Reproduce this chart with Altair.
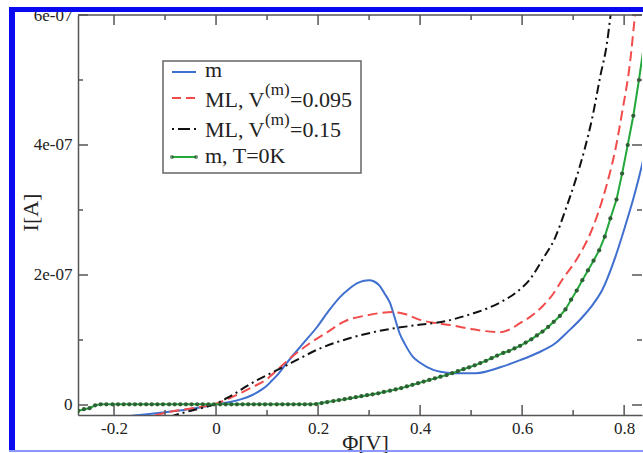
import altair as alt
import pandas as pd

# ---------------- data (y values in units of 1e-8 A) ----------------
green_x = [-0.270, -0.259, -0.248, -0.237, -0.226, -0.215, -0.203, -0.192, -0.181, -0.170,
           -0.159, -0.148, -0.137, -0.126, -0.115, -0.104, -0.092, -0.081, -0.070, -0.059,
           -0.048, -0.037, -0.026, -0.015, -0.004, 0.008, 0.019, 0.030, 0.041, 0.052,
           0.063, 0.074, 0.085, 0.096, 0.107, 0.119, 0.130, 0.141, 0.152, 0.163,
           0.174, 0.185, 0.196, 0.207, 0.218, 0.230, 0.241, 0.252, 0.263, 0.274,
           0.285, 0.296, 0.307, 0.318, 0.329, 0.341, 0.352, 0.363, 0.374, 0.385,
           0.396, 0.407, 0.418, 0.429, 0.440, 0.452, 0.463, 0.474, 0.485, 0.496,
           0.507, 0.518, 0.529, 0.540, 0.551, 0.563, 0.574, 0.585, 0.596, 0.607,
           0.618, 0.629, 0.640, 0.651, 0.662, 0.674, 0.685, 0.696, 0.707, 0.718,
           0.729, 0.740, 0.751, 0.762, 0.773, 0.785, 0.796, 0.807, 0.818, 0.829, 0.840]
green_y = [-0.9, -0.65, -0.5, -0.05, 0.1, 0.1, 0.1, 0.1, 0.1, 0.1,
           0.1, 0.1, 0.1, 0.1, 0.1, 0.1, 0.1, 0.1, 0.1, 0.1,
           0.1, 0.1, 0.1, 0.1, 0.1, 0.1, 0.1, 0.1, 0.1, 0.1,
           0.1, 0.1, 0.1, 0.1, 0.1, 0.1, 0.1, 0.1, 0.1, 0.1,
           0.1, 0.1, 0.15, 0.3, 0.45, 0.6, 0.75, 0.9, 1.05, 1.2,
           1.35, 1.5, 1.65, 1.8, 2.0, 2.2, 2.4, 2.6, 2.85, 3.1,
           3.35, 3.6, 3.85, 4.1, 4.35, 4.6, 4.9, 5.2, 5.5, 5.8,
           6.1, 6.45, 6.8, 7.2, 7.6, 8.0, 8.3, 8.7, 9.1, 9.6,
           10.1, 10.7, 11.3, 12.0, 12.8, 13.7, 14.7, 16.2, 17.6, 19.2,
           20.7, 22.2, 23.8, 25.9, 28.7, 31.6, 35.6, 40.0, 44.5, 50.0, 56.0]

blue_x = [-0.21, -0.19, -0.15, -0.10, -0.05, 0.0, 0.03, 0.05, 0.07, 0.09,
          0.10, 0.11, 0.12, 0.139, 0.17, 0.198, 0.22, 0.243, 0.26, 0.276,
          0.29, 0.30, 0.31, 0.32, 0.33, 0.341, 0.35, 0.36, 0.37, 0.386,
          0.40, 0.426, 0.44, 0.465, 0.51, 0.557, 0.596, 0.63, 0.665, 0.69,
          0.718, 0.74, 0.757, 0.782, 0.80, 0.82, 0.83, 0.84, 0.86]
blue_y = [-2.3, -1.9, -1.55, -1.1, -0.6, 0.1, 0.5, 0.9, 1.5, 2.4,
          3.0, 3.8, 4.6, 6.5, 9.4, 12.0, 14.4, 16.6, 17.8, 18.7,
          19.1, 19.2, 19.0, 18.4, 17.2, 15.7, 13.5, 11.0, 9.4, 7.4,
          6.5, 5.4, 5.1, 4.9, 4.9, 5.8, 6.9, 8.0, 9.5, 11.3,
          13.5, 15.6, 17.7, 22.6, 27.0, 32.3, 35.3, 38.6, 46.0]

red_x = [-0.12, -0.10, -0.05, 0.0, 0.025, 0.05, 0.07, 0.10, 0.12, 0.15,
         0.184, 0.22, 0.25, 0.296, 0.347, 0.37, 0.40, 0.43, 0.459, 0.50,
         0.524, 0.557, 0.575, 0.596, 0.62, 0.64, 0.66, 0.678, 0.71, 0.737,
         0.757, 0.773, 0.782, 0.796, 0.812, 0.82, 0.83]
red_y = [-1.6, -1.2, -0.55, 0.2, 1.0, 1.9, 2.7, 4.0, 5.4, 7.5,
         9.5, 11.3, 12.8, 13.8, 14.3, 14.0, 13.1, 12.6, 12.3, 11.7,
         11.4, 11.2, 11.6, 12.6, 13.8, 15.2, 17.0, 19.2, 22.8, 27.0,
         31.5, 36.0, 39.0, 45.0, 53.0, 59.0, 66.0]

black_x = [-0.09, -0.06, -0.02, 0.0, 0.02, 0.04, 0.06, 0.08, 0.10, 0.131,
           0.165, 0.198, 0.263, 0.327, 0.394, 0.45, 0.50, 0.53, 0.56, 0.59,
           0.615, 0.64, 0.665, 0.684, 0.704, 0.722, 0.737, 0.753, 0.767, 0.773, 0.785]
black_y = [-1.8, -1.1, -0.3, 0.2, 1.0, 1.9, 2.9, 3.8, 4.6, 5.8,
           7.2, 8.5, 10.3, 11.5, 12.3, 12.9, 14.0, 14.8, 15.9, 17.4,
           19.3, 22.4, 25.8, 29.8, 34.4, 39.2, 44.0, 50.5, 56.0, 59.7, 66.0]

x_major = [-0.2, 0.0, 0.2, 0.4, 0.6, 0.8]
x_minor = [-0.1, 0.1, 0.3, 0.5, 0.7]
y_major = [0.0, 2e-7, 4e-7, 6e-7]
y_minor = [1e-7, 3e-7, 5e-7]

legend_labels = ["m", "ML, V", "(m)", "=0.095", "ML, V", "(m)", "=0.15", "m, T=0K"]

# ---------------- layout ----------------
W, H = 564, 400
SERIF = "Liberation Serif, Times New Roman, Times, serif"
AX = "#555555"
XDOM = [-0.2706, 0.835]
YDOM = [-1.54e-8, 6.0e-7]

def frame(xs, ys, name):
    return pd.DataFrame({"x": xs, "y": [v * 1e-8 for v in ys], "s": name})

green = frame(green_x, green_y, "green")
blue = frame(blue_x, blue_y, "blue")
red = frame(red_x, red_y, "red")
black = frame(black_x, black_y, "black")

xaxis = alt.Axis(values=x_major, tickSize=0, labelPadding=5, domainColor=AX, domainWidth=1.5,
                 labelFont=SERIF, labelFontSize=17, labelColor="#222", grid=False,
                 labelExpr="datum.value == 0 ? '0' : replace(format(datum.value, '.1f'), '\u2212', '-')",
                 title="\u03a6[V]", titleFont=SERIF, titleFontSize=22, titleFontWeight="normal",
                 titleColor="#222", titleX=287, titleY=34, titleBaseline="alphabetic")
yaxis = alt.Axis(values=y_major, tickSize=0, labelPadding=6, domainColor=AX, domainWidth=1.5,
                 labelFont=SERIF, labelFontSize=17, labelColor="#222", grid=False,
                 labelExpr="datum.value == 0 ? '0' : replace(replace(format(datum.value, '.0e'), '\u2212', '-'), 'e-', 'e-0')",
                 title="I[A]", titleFont=SERIF, titleFontSize=22, titleFontWeight="normal",
                 titleColor="#222", titleX=-48, titleY=197, titleAngle=-90,
                 titleAlign="center", titleBaseline="middle")

X = alt.X("x:Q", scale=alt.Scale(domain=XDOM, nice=False, zero=False), axis=xaxis)
Y = alt.Y("y:Q", scale=alt.Scale(domain=YDOM, nice=False, zero=False), axis=yaxis)

layers = []

def line(df, color, dash=None, interp="monotone"):
    kw = dict(color=color, strokeWidth=2, clip=True, interpolate=interp)
    if dash:
        kw["strokeDash"] = dash
    return alt.Chart(df).mark_line(**kw).encode(x=X, y=Y, order=alt.Order("x:Q"))

layers.append(line(blue, "#3f6fcf"))
layers.append(line(red, "#f24b4b", [10, 5]))
layers.append(line(black, "#111111", [9, 4, 2, 4]))
layers.append(line(green, "#22a83a", interp="linear"))
layers.append(alt.Chart(green).mark_point(filled=True, size=18, color="#2f5f35", clip=True,
                                          opacity=1).encode(x=X, y=Y))

one = pd.DataFrame({"k": [0]})

# ticks (inward)
xmaj = pd.DataFrame({"x": x_major})
xmin = pd.DataFrame({"x": x_minor})
ymaj = pd.DataFrame({"y": y_major})
ymin = pd.DataFrame({"y": y_minor})
rk = dict(color=AX, strokeWidth=1.5)
layers += [
    alt.Chart(xmaj).mark_rule(**rk).encode(x=X, y=alt.value(H), y2=alt.value(H - 10)),
    alt.Chart(xmaj).mark_rule(**rk).encode(x=X, y=alt.value(0), y2=alt.value(10)),
    alt.Chart(xmin).mark_rule(**rk).encode(x=X, y=alt.value(H), y2=alt.value(H - 5)),
    alt.Chart(xmin).mark_rule(**rk).encode(x=X, y=alt.value(0), y2=alt.value(5)),
    alt.Chart(ymaj).mark_rule(**rk).encode(y=Y, x=alt.value(0), x2=alt.value(10)),
    alt.Chart(ymaj).mark_rule(**rk).encode(y=Y, x=alt.value(W), x2=alt.value(W - 10)),
    alt.Chart(ymin).mark_rule(**rk).encode(y=Y, x=alt.value(0), x2=alt.value(5)),
    alt.Chart(ymin).mark_rule(**rk).encode(y=Y, x=alt.value(W), x2=alt.value(W - 5)),
    alt.Chart(one).mark_rule(**rk).encode(x=alt.value(0), x2=alt.value(W), y=alt.value(0)),
]

# legend
layers.append(alt.Chart(one).mark_rect(fill="white", stroke="#666666", strokeWidth=1.5).encode(
    x=alt.value(85), x2=alt.value(283), y=alt.value(46), y2=alt.value(158)))

def seg(y, color, dash=None):
    kw = dict(color=color, strokeWidth=2)
    if dash:
        kw["strokeDash"] = dash
    return alt.Chart(one).mark_rule(**kw).encode(x=alt.value(94), x2=alt.value(118), y=alt.value(y))

layers += [seg(57, "#3f6fcf"), seg(83, "#f24b4b", [9, 5]), seg(114, "#111111", [2, 4, 12, 4]),
           seg(142, "#22a83a")]
for px in (94, 118):
    layers.append(alt.Chart(one).mark_point(filled=True, size=18, color="#2f5f35").encode(
        x=alt.value(px), y=alt.value(142)))

def txt(s, x, y, size=22):
    return alt.Chart(one).mark_text(align="left", baseline="alphabetic", font=SERIF, fontSize=size,
                                    color="#222").encode(x=alt.value(x), y=alt.value(y), text=alt.value(s))

layers += [
    txt(legend_labels[0], 127, 62),
    txt(legend_labels[1], 127, 92), txt(legend_labels[2], 187, 80, 17), txt(legend_labels[3], 212, 92),
    txt(legend_labels[4], 127, 122), txt(legend_labels[5], 187, 110, 17), txt(legend_labels[6], 212, 122),
    txt(legend_labels[7], 127, 148),
]

# blue border of the original figure
BLUE = "#0a0af0"
layers += [
    alt.Chart(one).mark_rect(color=BLUE).encode(x=alt.value(-69), x2=alt.value(W + 2),
                                                y=alt.value(-8), y2=alt.value(-3)),
    alt.Chart(one).mark_rect(color=BLUE).encode(x=alt.value(-69), x2=alt.value(-63),
                                                y=alt.value(-8), y2=alt.value(436)),
    alt.Chart(one).mark_rect(color="#8c96ff").encode(x=alt.value(-69), x2=alt.value(W + 2),
                                                     y=alt.value(435), y2=alt.value(437)),
]

chart = alt.layer(*layers).properties(
    width=W, height=H, autosize="none", background="white",
    padding={"left": 78, "top": 15, "right": 1, "bottom": 38},
).configure_view(stroke=None)

chart.save("out.html", embed_options={"renderer": "svg", "actions": False})
